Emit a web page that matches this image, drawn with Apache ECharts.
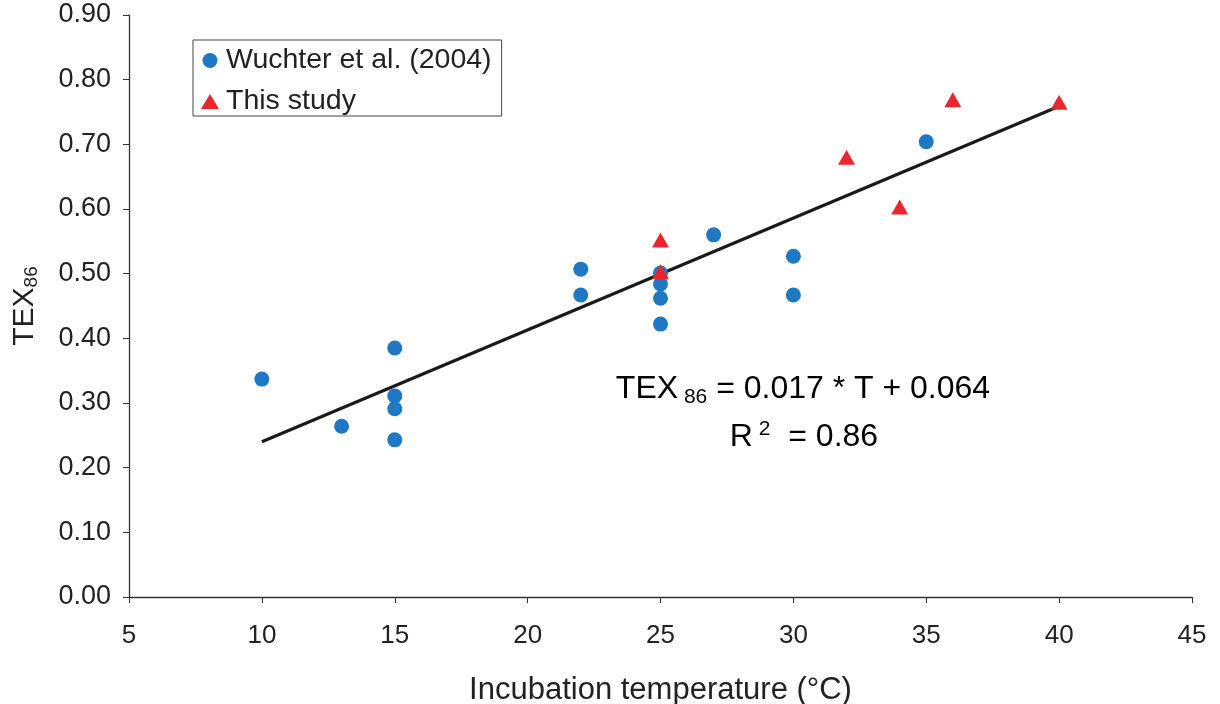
<!DOCTYPE html>
<html><head><meta charset="utf-8">
<script src="https://cdn.jsdelivr.net/npm/echarts@6/dist/echarts.min.js"></script>
<style>html,body{margin:0;padding:0;background:#fff}#c{width:1220px;height:704px}</style>
</head><body><div id="c"></div>
<script>
const xTicks = [5,10,15,20,25,30,35,40,45];
const wuchter = [[10,0.337],[13,0.264],[15,0.385],[15,0.311],[15,0.291],[15,0.243],
  [22,0.507],[22,0.467],[25,0.501],[25,0.484],[25,0.462],[25,0.422],[27,0.560],
  [30,0.527],[30,0.467],[35,0.704]];
const thisStudy = [[25,0.552],[25,0.503],[32,0.680],[34,0.603],[36,0.769],[40,0.765]];
const fitLine = [[10,0.240],[40,0.759]];
const FONT = '"Liberation Sans", Arial, sans-serif';
const chart = echarts.init(document.getElementById('c'));
chart.setOption({
  animation:false,
  backgroundColor:'#fff',
  grid:{left:129,right:28,top:15,bottom:107,containLabel:false,outerBoundsMode:'none'},
  legend:{
    left:193, top:40, orient:'vertical', itemGap:12,
    padding:[6,10,0,8], borderColor:'#444', borderWidth:1,
    itemWidth:18, itemHeight:15,
    textStyle:{fontFamily:FONT,fontSize:28.5,color:'#222',lineHeight:27,padding:[0,0,0,2]},
    data:[{name:'Wuchter et al. (2004)'},{name:'This study'}]
  },
  xAxis:{
    type:'value', min:5, max:45, interval:5,
    name:'Incubation temperature (°C)', nameLocation:'middle', nameGap:78,
    nameTextStyle:{fontFamily:FONT,fontSize:31,color:'#222'},
    axisLine:{lineStyle:{color:'#333',width:1.3}},
    axisTick:{show:true,length:6,lineStyle:{color:'#333'}},
    axisLabel:{fontFamily:FONT,fontSize:26,color:'#222',margin:26},
    splitLine:{show:false}
  },
  yAxis:{
    type:'value', min:0, max:0.9, interval:0.1,
    name:'{a|TEX}{s|86}', nameLocation:'middle', nameGap:88,
    nameTextStyle:{fontFamily:FONT,color:'#222',
      rich:{a:{fontFamily:FONT,fontSize:30,color:'#222'},s:{fontFamily:FONT,fontSize:19,color:'#222',padding:[14,0,0,0]}}},
    axisLine:{show:true,lineStyle:{color:'#333',width:1.3}},
    axisTick:{show:true,length:6,lineStyle:{color:'#333'}},
    axisLabel:{fontFamily:FONT,fontSize:27,color:'#222',margin:18,formatter:v=>v.toFixed(2)},
    splitLine:{show:false}
  },
  series:[
    {type:'line',data:fitLine,symbol:'none',lineStyle:{color:'#1a1a1a',width:3.2},z:1,silent:true},
    {name:'Wuchter et al. (2004)',type:'scatter',data:wuchter,symbol:'circle',symbolSize:15,itemStyle:{color:'#1f78c4',opacity:1},z:3},
    {name:'This study',type:'scatter',data:thisStudy,symbol:'triangle',symbolSize:[17,15],itemStyle:{color:'#ea272c',opacity:1},z:4}
  ],
  graphic:[
    {type:'text',x:803,y:389,style:{text:'{a|TEX}{s| 86}{a| = 0.017 * T + 0.064}',align:'center',verticalAlign:'middle',
      rich:{a:{fontFamily:FONT,fontSize:32,color:'#222'},s:{fontFamily:FONT,fontSize:21,color:'#222',padding:[16,0,0,0]}}}},
    {type:'text',x:804,y:437,style:{text:'{a|R}{p| 2}{a|  = 0.86}',align:'center',verticalAlign:'middle',
      rich:{a:{fontFamily:FONT,fontSize:32,color:'#222'},p:{fontFamily:FONT,fontSize:21,color:'#222',padding:[0,0,16,0]}}}}
  ]
});
</script></body></html>
